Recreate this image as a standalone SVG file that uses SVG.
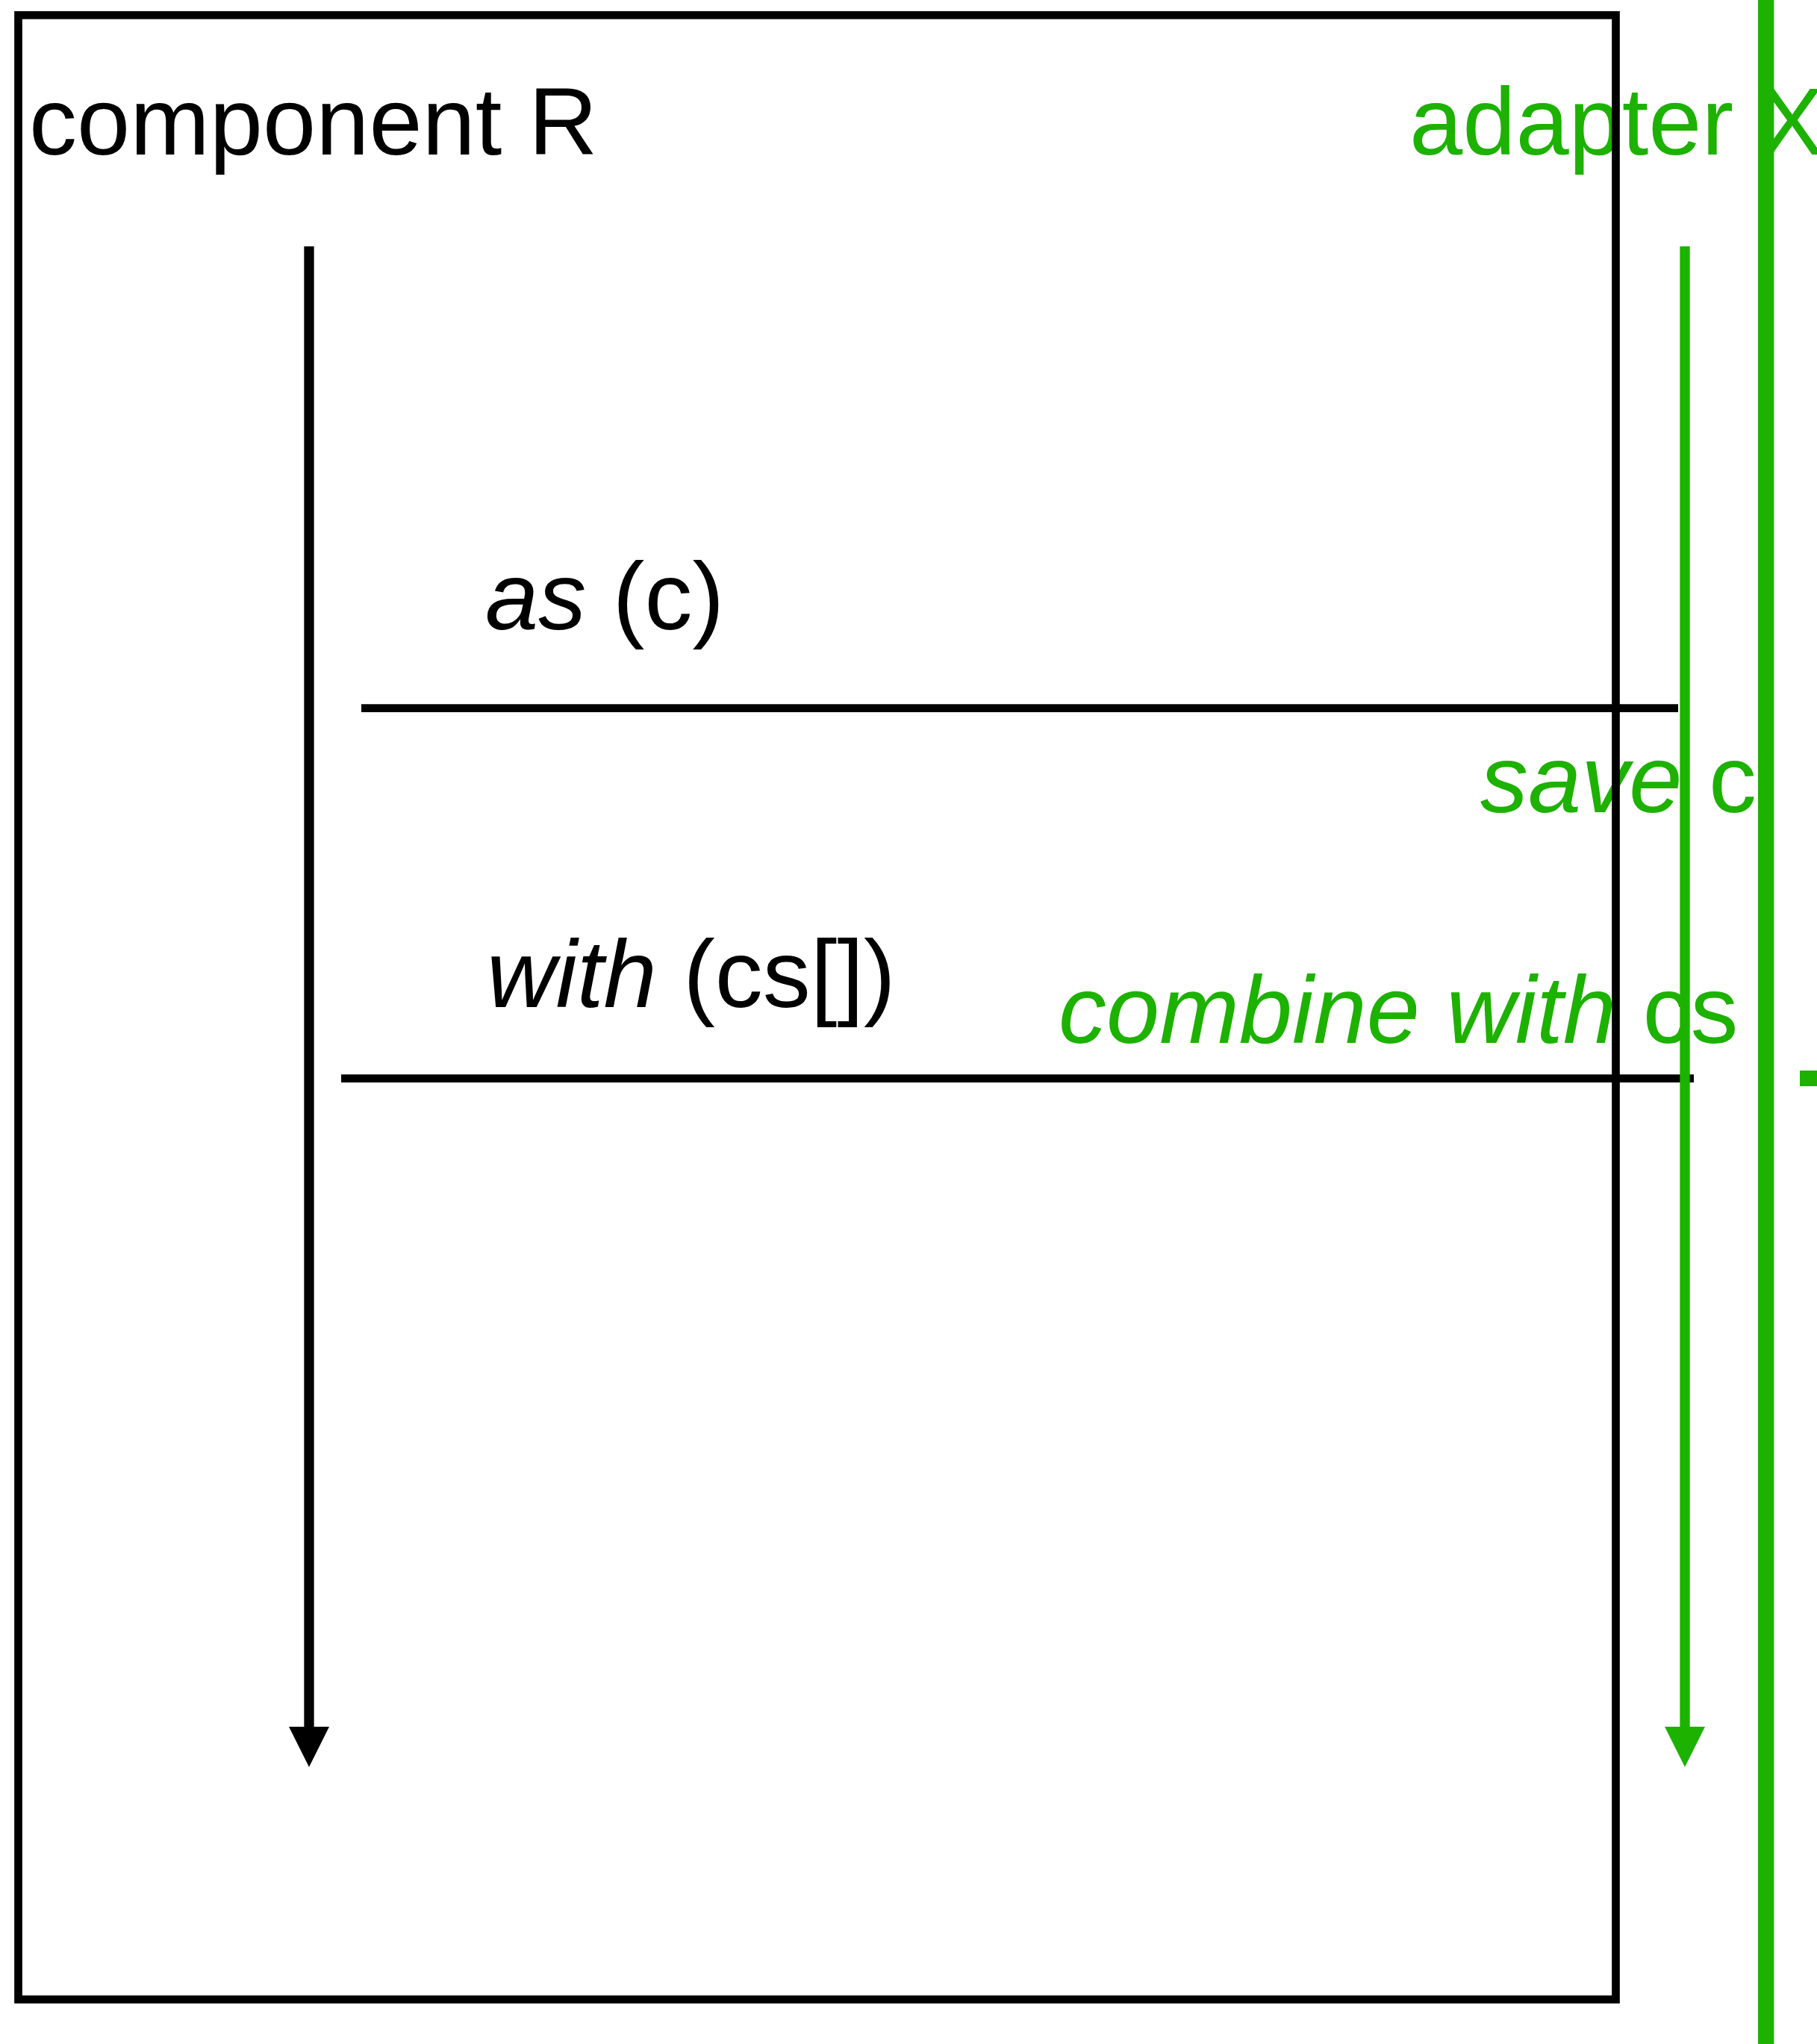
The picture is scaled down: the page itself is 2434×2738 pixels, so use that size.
<svg xmlns="http://www.w3.org/2000/svg" width="2434" height="2738" viewBox="0 0 2434 2738">
<style>
text { font-family: "Liberation Sans", Arial, Helvetica, sans-serif; font-size: 128px; }
.blk { fill: #000000; }
.grn { fill: #1DB100; }
.it { font-style: italic; }
.box { fill: none; stroke: #000000; stroke-width: 10.7; }
.msg { stroke: #000000; stroke-width: 10.7; fill: none; }
.life { stroke-width: 13.3; fill: none; }
</style>
<rect x="0" y="0" width="2434" height="2738" fill="#ffffff"/>
<g id="labels-green">
  <text class="grn" x="1888" y="207">adapter X</text>
  <text class="grn" x="1983" y="1088"><tspan class="it">save</tspan> c</text>
  <text class="grn" x="1418" y="1397"><tspan class="it">combine with</tspan> cs</text>
</g>
<g id="component-R">
  <rect class="box" x="24.5" y="20.3" width="2140" height="2658"/>
  <text class="blk" x="39" y="207">component R</text>
</g>
<g id="connectors">
  <g id="lifeline-R">
    <line class="life" x1="414" y1="330" x2="414" y2="2315" stroke="#000000"/>
    <polygon points="387,2313 441,2313 414,2367" fill="#000000"/>
  </g>
  <g id="msg-as">
    <line class="msg" x1="484" y1="948.7" x2="2248" y2="948.7"/>
    <text class="blk" x="650" y="843"><tspan class="it">as</tspan> (c)</text>
  </g>
  <g id="msg-with">
    <line class="msg" x1="457" y1="1444.7" x2="2269" y2="1444.7"/>
    <text class="blk" x="652" y="1349"><tspan class="it">with</tspan> (cs[])</text>
  </g>
  <g id="lifeline-X">
    <line class="life" x1="2257" y1="330" x2="2257" y2="2315" stroke="#1DB100"/>
    <polygon points="2230,2313 2284,2313 2257,2367" fill="#1DB100"/>
  </g>
</g>
<g id="adapter-X">
  <line x1="2365.7" y1="0" x2="2365.7" y2="2738" stroke="#1DB100" stroke-width="21.3"/>
  <rect x="2411" y="1434" width="30" height="21" fill="#1DB100"/>
</g>
</svg>
